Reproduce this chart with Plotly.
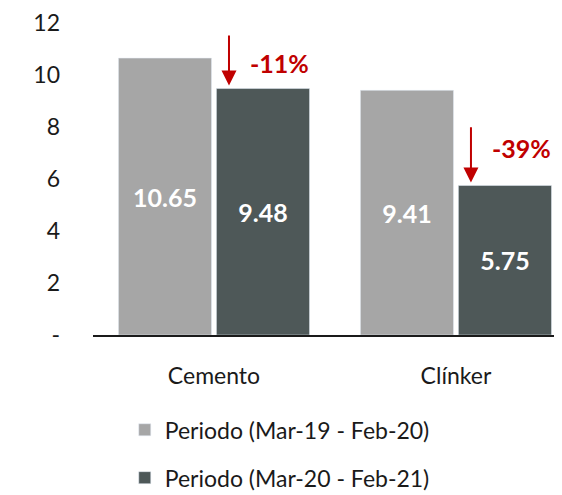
import plotly.graph_objects as go

categories = ["Cemento", "Clínker"]
periodo_1 = [10.65, 9.41]
periodo_2 = [9.48, 5.75]
series_names = ["Periodo (Mar-19 - Feb-20)", "Periodo (Mar-20 - Feb-21)"]
changes = ["-11%", "-39%"]
y_tickvals = [0, 2, 4, 6, 8, 10, 12]
y_ticktext = ["-", "2", "4", "6", "8", "10", "12"]

FONT = "Lato, 'Open Sans', sans-serif"
RED = "#C00000"
GRAY = "#A6A6A6"
DARK = "#4E5858"
TXT = "#1a1a1a"

fig = go.Figure()
fig.add_trace(go.Bar(
    x=categories, y=periodo_1, name=series_names[0], marker_color=GRAY,
    texttemplate="%{y:.2f}", textposition="inside", insidetextanchor="middle",
    textangle=0, textfont=dict(color="white", size=25, family=FONT, weight="bold"),
    legendgroup="a",
))
fig.add_trace(go.Bar(
    x=categories, y=periodo_2, name=series_names[1], marker_color=DARK,
    texttemplate="%{y:.2f}", textposition="inside", insidetextanchor="middle",
    textangle=0, textfont=dict(color="white", size=25, family=FONT, weight="bold"),
    legendgroup="b",
))

# change arrows and labels, positioned relative to the second-period bars
for i, (v, ch) in enumerate(zip(periodo_2, changes)):
    top = v + (2.1 if i == 0 else 2.3)
    fig.add_annotation(
        x=i + 0.062, y=v + 0.12, ax=i + 0.062, ay=top,
        xref="x", yref="y", axref="x", ayref="y",
        showarrow=True, arrowhead=2, arrowsize=1.5, arrowwidth=2, arrowcolor=RED, text="",
    )
    fig.add_annotation(
        x=i + 0.272, y=v + (1.0 if i == 0 else 1.45), xref="x", yref="y",
        text="<b>%s</b>" % ch, showarrow=False,
        font=dict(color=RED, size=25, family=FONT),
    )

fig.update_layout(
    width=554, height=487,
    margin=dict(l=85, r=2, t=15, b=160, autoexpand=False),
    paper_bgcolor="white", plot_bgcolor="white",
    barmode="group", bargap=0.19, bargroupgap=0.05,
    font=dict(family=FONT, size=23, color=TXT),
    showlegend=True,
    legend=dict(
        x=0.068, y=-0.235, xanchor="left", yanchor="top",
        orientation="v", tracegroupgap=15, traceorder="grouped",
        font=dict(size=23, color=TXT, family=FONT),
    ),
    xaxis=dict(
        range=[-0.5, 1.43], showline=True, linecolor="#1a1a1a", linewidth=1.5,
        showgrid=False, ticks="", ticklabelstandoff=20, automargin=False,
        tickfont=dict(size=23, family=FONT, color=TXT),
    ),
    yaxis=dict(
        range=[0, 12], tickvals=y_tickvals, ticktext=y_ticktext,
        showgrid=False, zeroline=False, showline=False, ticks="",
        ticklabelstandoff=32, automargin=False, ticklabeloverflow="allow",
        tickfont=dict(size=23, family=FONT, color=TXT),
    ),
)

fig.write_html("out.html")
